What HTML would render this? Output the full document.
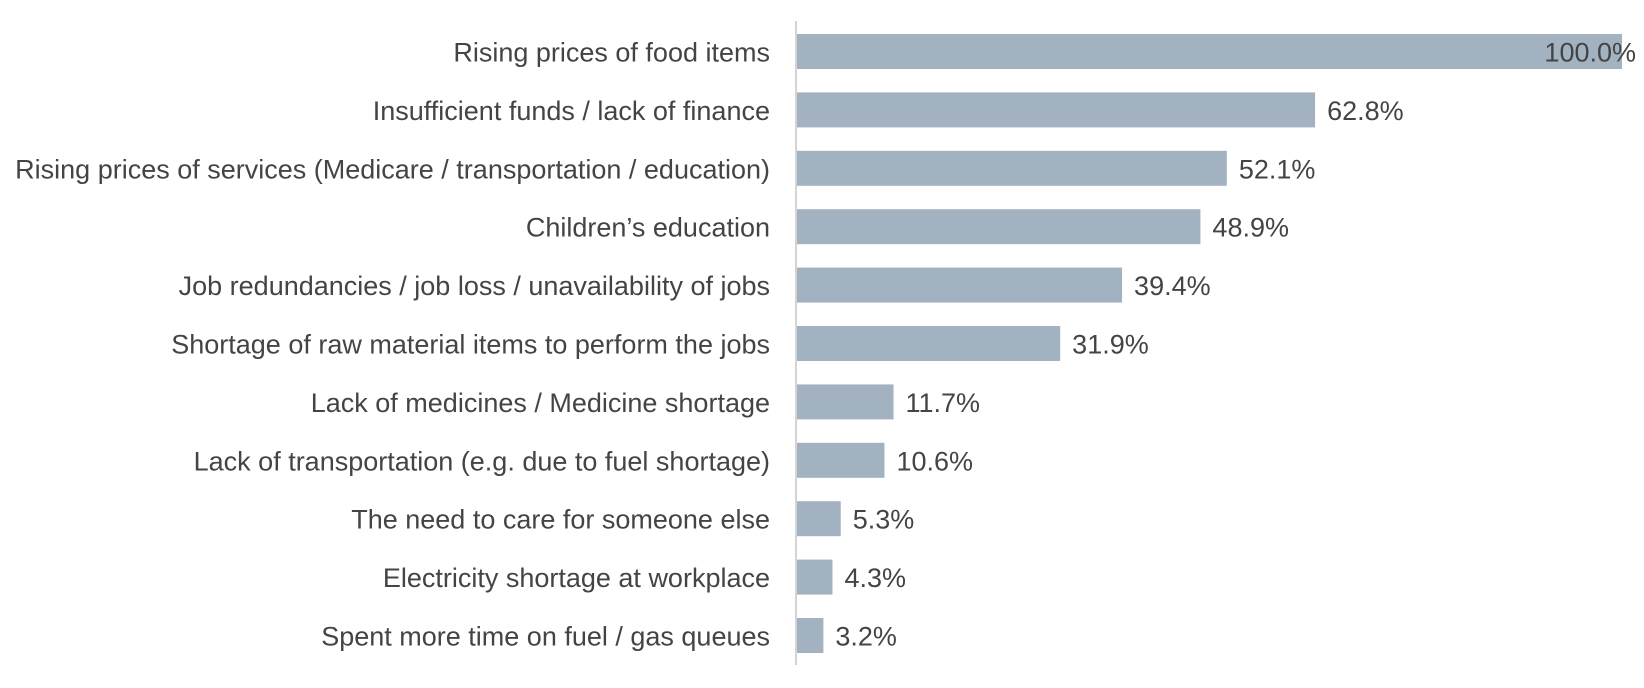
<!DOCTYPE html>
<html><head><meta charset="utf-8"><style>
html,body{margin:0;padding:0;background:#fff;}
svg{display:block;font-family:"Liberation Sans",Arial,sans-serif;}
</style></head><body>
<svg id="chart" width="1644" height="688">
<line x1="796" y1="21" x2="796" y2="665" stroke="#d4d4d4" stroke-width="2"/>
<g id="bars"></g>
</svg>
<script>
const categories = ["Rising prices of food items","Insufficient funds / lack of finance","Rising prices of services (Medicare / transportation / education)","Children’s education","Job redundancies / job loss / unavailability of jobs","Shortage of raw material items to perform the jobs","Lack of medicines / Medicine shortage","Lack of transportation (e.g. due to fuel shortage)","The need to care for someone else","Electricity shortage at workplace","Spent more time on fuel / gas queues"];
const values = [100.0,62.8,52.1,48.9,39.4,31.9,11.7,10.6,5.3,4.3,3.2];
const valueLabels = ["100.0%","62.8%","52.1%","48.9%","39.4%","31.9%","11.7%","10.6%","5.3%","4.3%","3.2%"];
const NS="http://www.w3.org/2000/svg";
const x0=797, xw=825, top0=34, pitch=58.4, bh=35;
const xs=v=>x0+v/100*xw;
const ys=i=>top0+i*pitch;
const g=document.getElementById('bars');
categories.forEach((c,i)=>{
  const y=ys(i), x1=xs(values[i]);
  const r=document.createElementNS(NS,'rect');
  r.setAttribute('x',x0);r.setAttribute('y',y);r.setAttribute('width',x1-x0);r.setAttribute('height',bh);r.setAttribute('fill','#a3b2c1');
  
  
  g.appendChild(r);
  const t=document.createElementNS(NS,'text');
  t.setAttribute('x',770);t.setAttribute('y',y+bh/2+10);t.setAttribute('text-anchor','end');t.setAttribute('font-size','27');t.setAttribute('fill','#444');
  t.textContent=c;
  
  
  g.appendChild(t);
  const v=document.createElementNS(NS,'text');
  let vx=x1+12, anchor='start';
  if(vx+100>1644){vx=1636;anchor='end';}
  v.setAttribute('x',vx);v.setAttribute('y',y+bh/2+10);v.setAttribute('text-anchor',anchor);v.setAttribute('font-size','27');v.setAttribute('fill','#444');
  v.textContent=valueLabels[i];
  
  
  g.appendChild(v);
});
</script>
</body></html>
